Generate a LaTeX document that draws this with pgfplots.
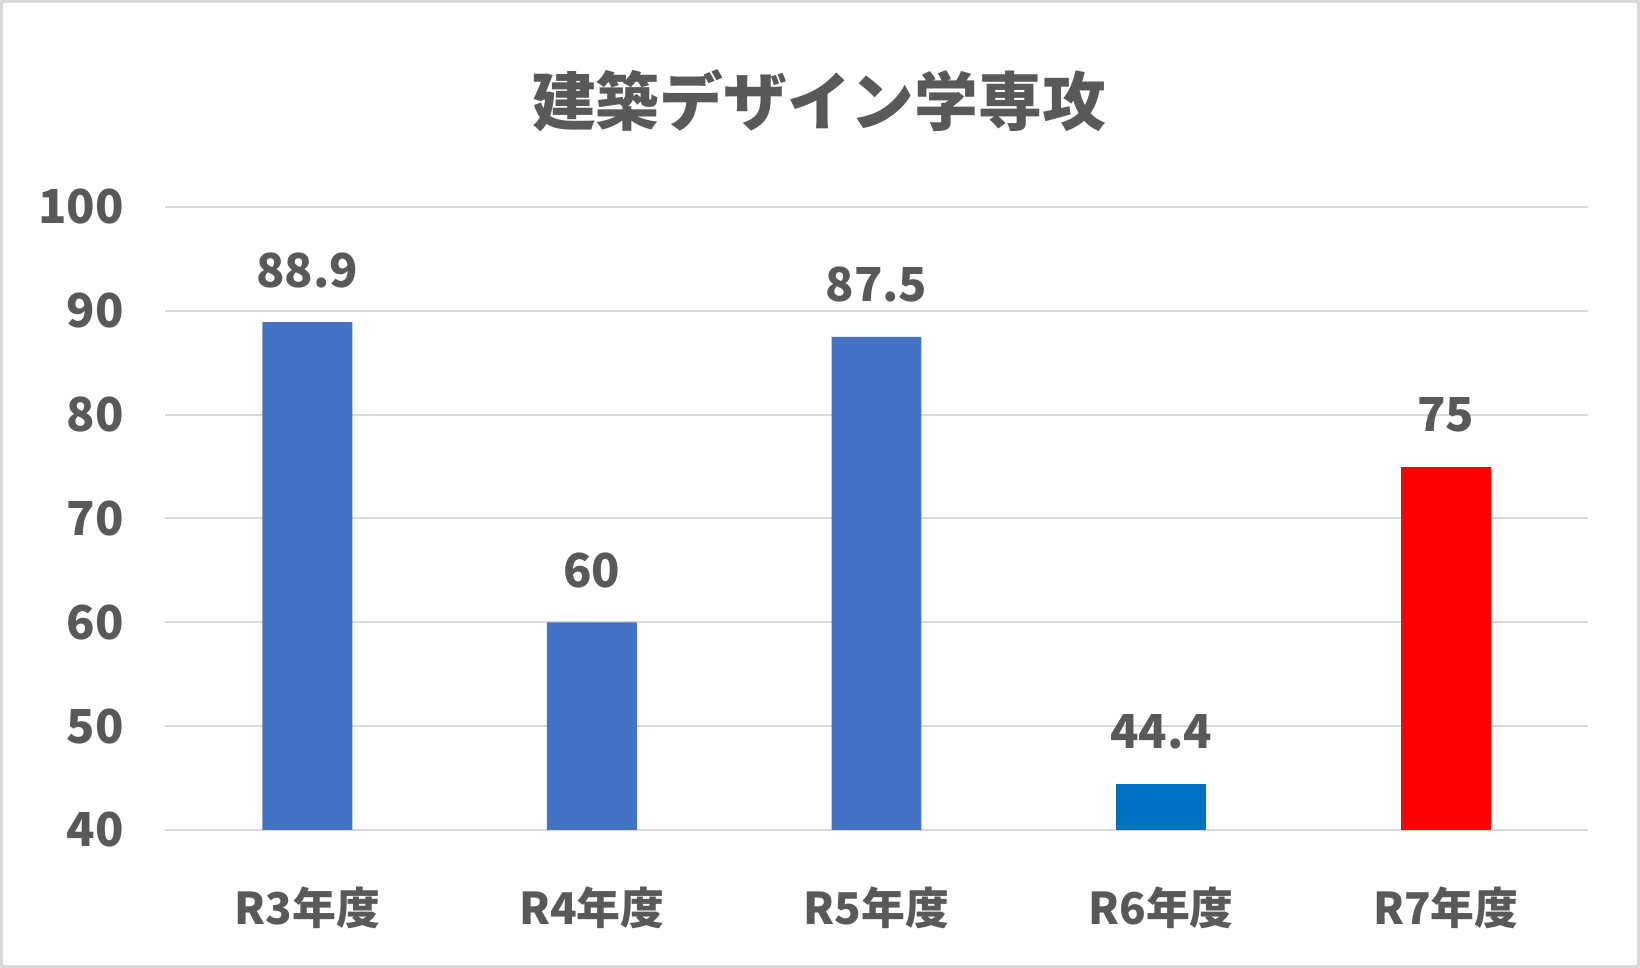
\documentclass[border=0pt]{standalone}
\usepackage{pgfplots}
\pgfplotsset{compat=1.18}
\usepackage{fontspec}
\setmainfont{Noto Sans CJK JP}
\definecolor{txt}{HTML}{595959}
\definecolor{gridc}{HTML}{D9D9D9}
\definecolor{b1}{HTML}{4472C4}
\definecolor{b2}{HTML}{0070C0}
\definecolor{r1}{HTML}{FF0000}
\begin{document}
\begin{tikzpicture}[x=1bp,y=1bp]
\draw[color=gridc, line width=1.5bp, fill=white] (0.75,0.75) rectangle (819.25,483.25);
\node[text=txt, font=\fontsize{32}{36}\selectfont\bfseries] at (409.5,433.5) {建築デザイン学専攻};
\begin{axis}[
  at={(82.5bp,69bp)}, anchor=south west,
  width=711.5bp, height=311.5bp, scale only axis,
  xmin=-0.5, xmax=4.5, ymin=40, ymax=100,
  ytick={40,50,...,100},
  xtick={0,1,2,3,4},
  xticklabels={R3年度,R4年度,R5年度,R6年度,R7年度},
  /pgf/number format/assume math mode=true,
  ymajorgrids, grid style={gridc, line width=1bp},
  axis line style={draw=none},
  major tick length=0,
  tick label style={text=txt, font=\fontsize{23.5}{26}\selectfont\bfseries},
  yticklabel style={xshift=-17bp},
  xticklabel style={yshift=-25bp, font=\fontsize{22}{26}\selectfont\bfseries},
  ybar, bar width=0.316, bar shift=0,
  nodes near coords,
  every node near coord/.append style={text=txt, font=\fontsize{23.5}{26}\selectfont\bfseries, anchor=center, yshift=26bp},
  clip=false,
]
\addplot[fill=b1, draw=none] coordinates {(0,88.9) (1,60) (2,87.5)};
\addplot[fill=b2, draw=none] coordinates {(3,44.4)};
\addplot[fill=r1, draw=none] coordinates {(4,75)};
\end{axis}
\end{tikzpicture}
\end{document}
